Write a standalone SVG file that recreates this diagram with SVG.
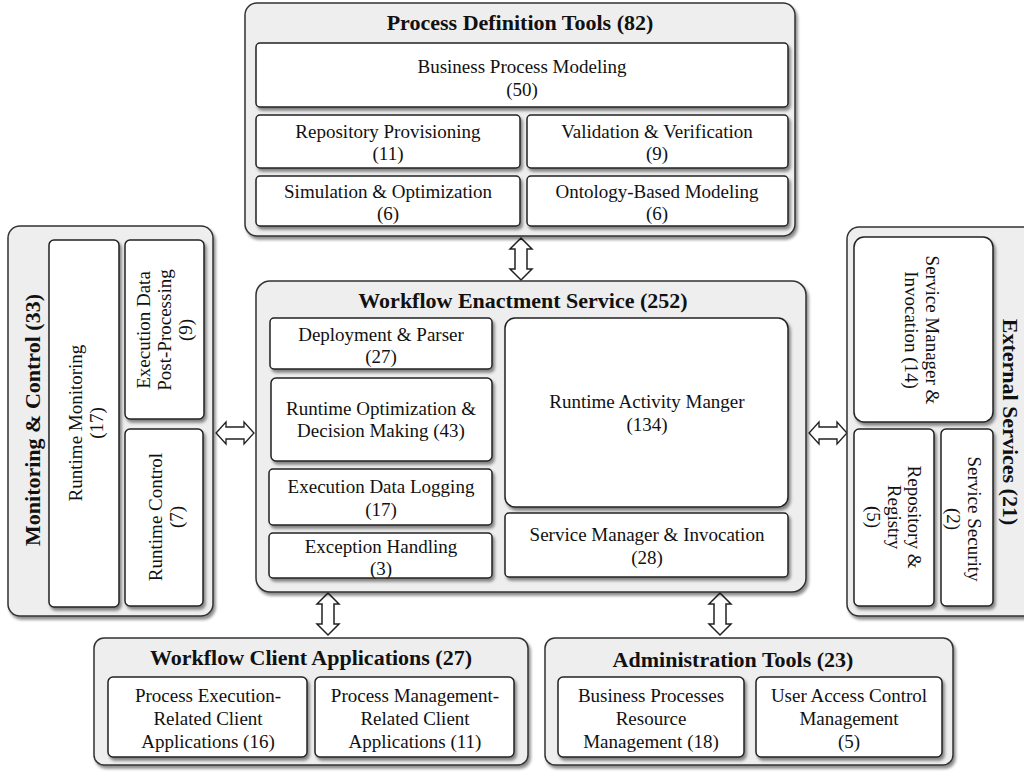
<svg xmlns="http://www.w3.org/2000/svg" width="1024" height="771" viewBox="0 0 1024 771">
<defs>
<filter id="sh" x="-10%" y="-10%" width="130%" height="130%"><feDropShadow dx="2" dy="3" stdDeviation="1.5" flood-color="#000" flood-opacity="0.45"/></filter>
<path id="dv" d="M0,-21 L11,-10 L6,-10 L6,10 L11,10 L0,21 L-11,10 L-6,10 L-6,-10 L-11,-10 Z"/>
</defs>
<style>
.c{fill:#eeeeee;stroke:#333;stroke-width:1.5;filter:url(#sh)}
.b{fill:#fff;stroke:#222;stroke-width:1.5;filter:url(#sh)}
.t{font-family:"Liberation Serif","Times New Roman",serif;font-weight:bold;font-size:22px;fill:#111;text-anchor:middle}
.l{font-family:"Liberation Serif","Times New Roman",serif;font-size:19px;fill:#111;text-anchor:middle}
.a{fill:#fff;stroke:#222;stroke-width:1.5}
</style>
<rect width="1024" height="771" fill="#fff"/>

<g id="connectors">
<use href="#dv" class="a" transform="translate(521,259)"/>
<use href="#dv" class="a" transform="translate(235,433) rotate(90) scale(1,0.9)"/>
<use href="#dv" class="a" transform="translate(828,433) rotate(90) scale(1,0.9)"/>
<use href="#dv" class="a" transform="translate(328,614)"/>
<use href="#dv" class="a" transform="translate(720,614)"/>
</g>

<g id="process-definition-tools">
<rect class="c" x="245" y="3" width="550" height="233" rx="12"/>
<text class="t" x="520" y="30">Process Definition Tools (82)</text>
<g id="business-process-modeling"><rect class="b" x="256" y="43" width="532" height="64" rx="4"/>
<text class="l" x="522" y="73">Business Process Modeling</text><text class="l" x="522" y="96">(50)</text></g>
<g id="repository-provisioning"><rect class="b" x="256" y="115" width="264" height="53" rx="4"/>
<text class="l" x="388" y="138">Repository Provisioning</text><text class="l" x="388" y="160">(11)</text></g>
<g id="validation-verification"><rect class="b" x="527" y="115" width="261" height="53" rx="4"/>
<text class="l" x="657" y="138">Validation &amp; Verification</text><text class="l" x="657" y="160">(9)</text></g>
<g id="simulation-optimization"><rect class="b" x="256" y="176" width="264" height="50" rx="4"/>
<text class="l" x="388" y="198">Simulation &amp; Optimization</text><text class="l" x="388" y="220">(6)</text></g>
<g id="ontology-based-modeling"><rect class="b" x="527" y="176" width="261" height="50" rx="4"/>
<text class="l" x="657" y="198">Ontology-Based Modeling</text><text class="l" x="657" y="220">(6)</text></g>
</g>

<g id="workflow-enactment-service">
<rect class="c" x="256" y="281" width="550" height="311" rx="14"/>
<text class="t" x="523" y="308">Workflow Enactment Service (252)</text>
<g id="deployment-parser"><rect class="b" x="270" y="318" width="222" height="51" rx="4"/>
<text class="l" x="381" y="341">Deployment &amp; Parser</text><text class="l" x="381" y="363">(27)</text></g>
<g id="runtime-optimization"><rect class="b" x="271" y="378" width="221" height="83" rx="5"/>
<text class="l" x="381" y="415">Runtime Optimization &amp;</text><text class="l" x="381" y="437">Decision Making (43)</text></g>
<g id="execution-data-logging"><rect class="b" x="269" y="469" width="223" height="56" rx="4"/>
<text class="l" x="381" y="493">Execution Data Logging</text><text class="l" x="381" y="516">(17)</text></g>
<g id="exception-handling"><rect class="b" x="269" y="533" width="223" height="45" rx="4"/>
<text class="l" x="381" y="553">Exception Handling</text><text class="l" x="381" y="575">(3)</text></g>
<g id="runtime-activity-manager"><rect class="b" x="505" y="318" width="283" height="189" rx="10"/>
<text class="l" x="647" y="408">Runtime Activity Manger</text><text class="l" x="647" y="431">(134)</text></g>
<g id="service-manager-invocation"><rect class="b" x="505" y="513" width="283" height="64" rx="4"/>
<text class="l" x="647" y="541">Service Manager &amp; Invocation</text><text class="l" x="647" y="564">(28)</text></g>
</g>

<g id="monitoring-control">
<rect class="c" x="8" y="226" width="205" height="390" rx="12"/>
<text class="t" transform="translate(40,420) rotate(-90)">Monitoring &amp; Control (33)</text>
<g id="runtime-monitoring"><rect class="b" x="49" y="240" width="70" height="367" rx="5"/>
<text class="l" transform="translate(82,423) rotate(-90)"><tspan x="0" y="0">Runtime Monitoring</tspan><tspan x="0" y="21">(17)</tspan></text></g>
<g id="execution-data-post-processing"><rect class="b" x="125" y="240" width="79" height="179" rx="5"/>
<text class="l" transform="translate(150,330) rotate(-90)"><tspan x="0" y="0">Execution Data</tspan><tspan x="0" y="21">Post-Processing</tspan><tspan x="0" y="42">(9)</tspan></text></g>
<g id="runtime-control"><rect class="b" x="125" y="429" width="78" height="177" rx="5"/>
<text class="l" transform="translate(162,517) rotate(-90)"><tspan x="0" y="0">Runtime Control</tspan><tspan x="0" y="21">(7)</tspan></text></g>
</g>

<g id="external-services">
<rect class="c" x="847" y="227" width="190" height="389" rx="12"/>
<text class="t" transform="translate(1003,422) rotate(90)">External Services (21)</text>
<g id="ext-service-manager"><rect class="b" x="854" y="237" width="139" height="185" rx="10"/>
<text class="l" transform="translate(926,330) rotate(90)"><tspan x="0" y="0">Service Manager &amp;</tspan><tspan x="0" y="21">Invocation (14)</tspan></text></g>
<g id="repository-registry"><rect class="b" x="854" y="429" width="80" height="177" rx="5"/>
<text class="l" transform="translate(908,517) rotate(90)"><tspan x="0" y="0">Repository &amp;</tspan><tspan x="0" y="20">Registry</tspan><tspan x="0" y="41">(5)</tspan></text></g>
<g id="service-security"><rect class="b" x="941" y="429" width="52" height="177" rx="5"/>
<text class="l" transform="translate(968,519) rotate(90)"><tspan x="0" y="0">Service Security</tspan><tspan x="0" y="21">(2)</tspan></text></g>
</g>

<g id="workflow-client-applications">
<rect class="c" x="94" y="638" width="434" height="127" rx="10"/>
<text class="t" x="311" y="665">Workflow Client Applications (27)</text>
<g id="process-execution-clients"><rect class="b" x="108" y="677" width="199" height="80" rx="5"/>
<text class="l" x="208" y="702">Process Execution-</text><text class="l" x="208" y="725">Related Client</text><text class="l" x="208" y="748">Applications (16)</text></g>
<g id="process-management-clients"><rect class="b" x="315" y="677" width="199" height="80" rx="5"/>
<text class="l" x="415" y="702">Process Management-</text><text class="l" x="415" y="725">Related Client</text><text class="l" x="415" y="748">Applications (11)</text></g>
</g>

<g id="administration-tools">
<rect class="c" x="545" y="638" width="408" height="127" rx="10"/>
<text class="t" x="733" y="667">Administration Tools (23)</text>
<g id="bp-resource-management"><rect class="b" x="558" y="677" width="186" height="80" rx="5"/>
<text class="l" x="651" y="702">Business Processes</text><text class="l" x="651" y="725">Resource</text><text class="l" x="651" y="748">Management (18)</text></g>
<g id="user-access-control"><rect class="b" x="756" y="677" width="186" height="80" rx="5"/>
<text class="l" x="849" y="702">User Access Control</text><text class="l" x="849" y="725">Management</text><text class="l" x="849" y="748">(5)</text></g>
</g>
</svg>
